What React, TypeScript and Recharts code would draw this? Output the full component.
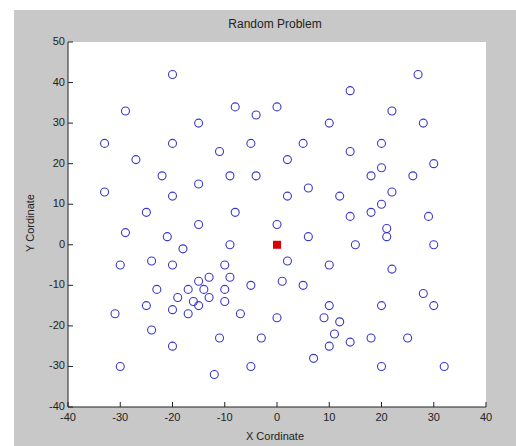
import React from 'react';
import { ScatterChart, Scatter, XAxis, YAxis, CartesianGrid } from 'recharts';

const xValues = [
  -20, 27, 14, -29, -8, 0, -4, 22, -15, 10, 28, -33, -20, -5, -11, 5, 14, 20, -27, 2,
  30, 20, -22, -9, -4, 18, 26, -15, 6, -33, -20, 2, 12, 22, 20, -25, -8, 18, 14, 29,
  -15, 0, 21, 21, -29, -21, 6, -18, -9, 15, 30, -30, -24, -20, -10, 2, 10, 22, -15, -13,
  -9, 1, -5, 5, -23, -17, -14, -10, -19, -13, -16, -10, -15, -25, 10, 20, 30, 28, -31, -20,
  -17, -7, 0, 9, 12, -24, 11, -11, -3, 14, 18, 25, -20, 10, 7, -30, -5, 20, 32, -12,
];
const yValues = [
  42, 42, 38, 33, 34, 34, 32, 33, 30, 30, 30, 25, 25, 25, 23, 25, 23, 25, 21, 21,
  20, 19, 17, 17, 17, 17, 17, 15, 14, 13, 12, 12, 12, 13, 10, 8, 8, 8, 7, 7,
  5, 5, 4, 2, 3, 2, 2, -1, 0, 0, 0, -5, -4, -5, -5, -4, -5, -6, -9, -8,
  -8, -9, -10, -10, -11, -11, -11, -11, -13, -13, -14, -14, -15, -15, -15, -15, -15, -12, -17, -16,
  -17, -17, -18, -18, -19, -21, -22, -23, -23, -24, -23, -23, -25, -25, -28, -30, -30, -30, -30, -32,
];
const depot = { x: 0, y: 0 };
const xTicks = [-40, -30, -20, -10, 0, 10, 20, 30, 40];
const yTicks = [-40, -30, -20, -10, 0, 10, 20, 30, 40, 50];

const cities = xValues.map((x, i) => ({ x, y: yValues[i] }));

const font = 'Arial, "Liberation Sans", sans-serif';

const XTick = (props: any) => {
  const { x, y, payload } = props;
  return (
    <g>
      <line x1={x} y1={y} x2={x} y2={y - 5} stroke="#222" />
      <text x={x} y={y + 14} textAnchor="middle" fontSize={11} fontFamily={font} fill="#222">
        {payload.value}
      </text>
    </g>
  );
};

const YTick = (props: any) => {
  const { x, y, payload } = props;
  return (
    <g>
      <line x1={x} y1={y} x2={x + 5} y2={y} stroke="#222" />
      <text x={x - 3} y={y + 3} textAnchor="end" fontSize={11} fontFamily={font} fill="#222">
        {payload.value}
      </text>
    </g>
  );
};

const Ring = (props: any) => (
  <circle cx={props.cx} cy={props.cy} r={4} fill="none" stroke="#3a3ac8" strokeWidth={1.1} />
);

const Depot = (props: any) => (
  <rect x={props.cx - 4} y={props.cy - 4} width={8} height={8} fill="#dd0000" />
);

export default function App() {
  return (
    <div style={{ position: 'absolute', left: 0, top: 0, width: 516, height: 446, background: '#fff' }}>
      <div style={{ position: 'absolute', left: 14, top: 10, width: 502, height: 436, background: '#c8c8c8' }} />
      <div style={{ position: 'absolute', left: 0, top: 0 }}>
        <ScatterChart width={516} height={446} margin={{ top: 42, right: 30, bottom: 19, left: 28 }}>
          <CartesianGrid horizontal={false} vertical={false} fill="#ffffff" fillOpacity={1} />
          <XAxis
            type="number"
            dataKey="x"
            domain={[-40, 40]}
            ticks={xTicks}
            height={20}
            tickSize={0}
            tickMargin={0}
            tickLine={false}
            stroke="#222"
            tick={<XTick />}
            allowDataOverflow
          />
          <YAxis
            type="number"
            dataKey="y"
            domain={[-40, 50]}
            ticks={yTicks}
            width={40}
            tickSize={0}
            tickMargin={0}
            tickLine={false}
            stroke="#222"
            tick={<YTick />}
            allowDataOverflow
          />
          <Scatter data={cities} shape={<Ring />} isAnimationActive={false} />
          <Scatter data={[depot]} shape={<Depot />} isAnimationActive={false} />
        </ScatterChart>
      </div>
      <div style={{ position: 'absolute', left: 0, top: 17, width: 550, textAlign: 'center', fontFamily: font, fontSize: 12, color: '#222' }}>
        Random Problem
      </div>
      <div style={{ position: 'absolute', left: 0, top: 430, width: 550, textAlign: 'center', fontFamily: font, fontSize: 11, color: '#222' }}>
        X Cordinate
      </div>
      <div
        style={{
          position: 'absolute',
          left: 30,
          top: 223,
          transform: 'translate(-50%, -50%) rotate(-90deg)',
          whiteSpace: 'nowrap',
          fontFamily: font,
          fontSize: 11,
          color: '#222',
        }}
      >
        Y Cordinate
      </div>
    </div>
  );
}
